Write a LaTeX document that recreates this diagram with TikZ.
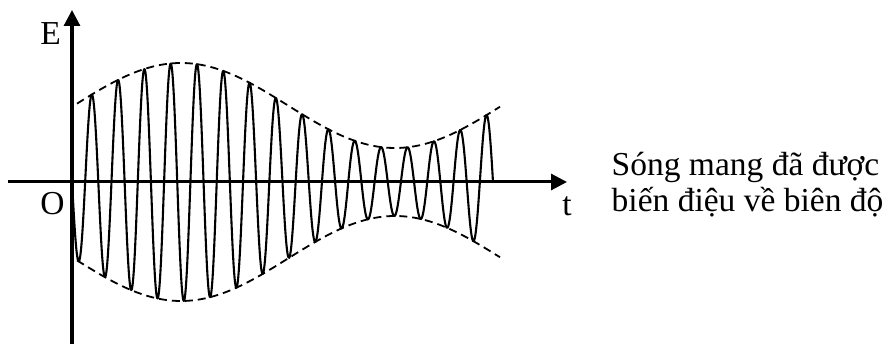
\documentclass[tikz,border=0pt]{standalone}
\usepackage{fontspec}
\setmainfont{Liberation Serif}
\usetikzlibrary{arrows.meta}

\begin{document}
\begin{tikzpicture}[x=1pt, y=1pt,
    declare function={amp(\x)=76.5+42.5*cos(0.84112*(\x-109));},
    axis/.style={line width=3pt, -{Triangle[length=16pt, width=16pt]}},
    carrier/.style={line width=2.1pt, line join=round},
    envelope/.style={line width=1.8pt, dash pattern=on 8pt off 5pt},
    lbl/.style={font=\fontsize{33.5}{36}\selectfont, inner sep=0pt, anchor=base}]
    \useasboundingbox (-72,-162) rectangle (822,182);
    % Axes
    \coordinate (tstart) at (-64,0);
    \coordinate (tend) at (495,0);
    \coordinate (estart) at (0,-162);
    \coordinate (eend) at (0,172);
    \draw[axis] (tstart) -- (tend);
    \draw[axis] (estart) -- (eend);
    \node[lbl] (elbl) at (-21.5,137) {E};
    \node[lbl] (olbl) at (-19.5,-33) {O};
    \node[lbl] (tlbl) at (495,-34) {t};
    % Modulated carrier
    \draw[carrier] plot[domain=0:421, samples=900] (\x, {-amp(\x)*sin(13.6817*\x)});
    % Envelope
    \draw[envelope] plot[domain=5:428, samples=120, smooth] (\x, {amp(\x)});
    \draw[envelope] plot[domain=5:428, samples=120, smooth] (\x, {-amp(\x)});
    % Caption
    \node[lbl, anchor=base west, align=left] (caption) at (539.5,-30)
        {Sóng mang đã được\\biến điệu về biên độ};
\end{tikzpicture}
\end{document}
